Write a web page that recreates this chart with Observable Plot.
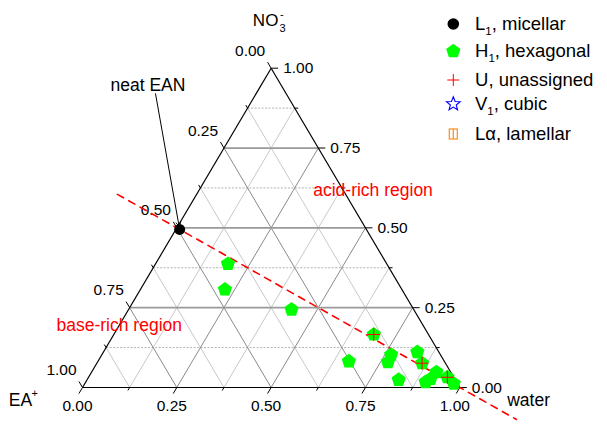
<!DOCTYPE html>
<html><head><meta charset="utf-8">
<script src="https://cdn.jsdelivr.net/npm/d3@7"></script>
<script src="https://cdn.jsdelivr.net/npm/@observablehq/plot@0.6"></script>
<style>
body{margin:0;background:#fff;}
#wrap{position:relative;width:607px;height:425px;font-family:"Liberation Sans",Arial,Helvetica,sans-serif;}
#legend{position:absolute;left:0;top:0;pointer-events:none;}
</style></head><body><div id="wrap"></div>
<script>
// ---------- data (ternary fractions: EA+, water, NO3-) ----------
const axisTicks = [0, 0.25, 0.5, 0.75, 1];
const tickLabels = ["0.00", "0.25", "0.50", "0.75", "1.00"];
const minorTicks = [0.125, 0.375, 0.625, 0.875];
const gridValues = [0.125, 0.25, 0.375, 0.5, 0.625, 0.75, 0.875];
const majorGrid = [0.25, 0.5, 0.75];

// L1, micellar (neat EAN)
const L1_ea = [0.495];
const L1_water = [0.01];
const L1_no3 = [0.495];

// H1, hexagonal
const H1_ea    = [0.421, 0.469, 0.324, 0.145, 0.253, 0.131, 0.151, 0.057, 0.062, 0.150, 0.038, 0.064, 0.082, 0.017, 0.010];
const H1_water = [0.192, 0.224, 0.432, 0.689, 0.665, 0.767, 0.770, 0.832, 0.862, 0.826, 0.914, 0.909, 0.901, 0.951, 0.978];
const H1_no3   = [0.387, 0.307, 0.244, 0.166, 0.082, 0.102, 0.079, 0.111, 0.076, 0.024, 0.048, 0.027, 0.017, 0.032, 0.012];

// U, unassigned
const U_ea    = [0.145, 0.062, 0.017];
const U_water = [0.689, 0.862, 0.951];
const U_no3   = [0.166, 0.076, 0.032];

// EA:NO3 = 1:1 dilution line, water fraction range drawn
const dilutionWater = [-0.21, 1.2];

// annotations (plot-space x = water + no3/2, y = no3)
const annNeat = {x: 0.0742, y: 0.928, text: "neat EAN"};
const annArrowStart = {x: 0.1935, y: 0.92};
const annAcid = {x: 0.6115, y: 0.6013, text: "acid-rich region"};
const annBase = {x: -0.0689, y: 0.1785, text: "base-rich region"};

const legendItems = [
  {sym: "circle",   color: "#000000", main: "L", sub: "1", rest: ", micellar"},
  {sym: "pentagon", color: "#00ff00", main: "H", sub: "1", rest: ", hexagonal"},
  {sym: "plus",     color: "#ff0000", main: "U", sub: "",  rest: ", unassigned"},
  {sym: "star",     color: "#0000ff", main: "V", sub: "1", rest: ", cubic"},
  {sym: "lamellar", color: "#ff8c1a", main: "L\u03b1", sub: "", rest: ", lamellar"}
];
const legendBaselines = [30, 57.3, 86, 110, 140];

// ---------- layout ----------
const W = 607, H = 425;
const mL = 82, mR = 147.7, mT = 67.7, mB = 38;
const KX = W - mL - mR, KY = H - mT - mB;
const FONT = '"Liberation Sans", Arial, Helvetica, sans-serif';

const toXY = (ea, w, n) => { const s = ea + w + n; return {x: (w + n / 2) / s, y: n / s}; };
const px = (dx, dy) => [dx / KX, -dy / KY]; // pixel vector -> data vector

// grid
const grid = [];
for (const v of gridValues) {
  const major = majorGrid.includes(v);
  const h1 = toXY(1 - v, 0, v), h2 = toXY(0, 1 - v, v);
  grid.push({kind: "h", major, x1: h1.x, y1: h1.y, x2: h2.x, y2: h2.y});
  const a1 = toXY(1 - v, v, 0), a2 = toXY(0, v, 1 - v);
  grid.push({kind: "s", major, x1: a1.x, y1: a1.y, x2: a2.x, y2: a2.y});
  const b1 = toXY(v, 1 - v, 0), b2 = toXY(v, 0, 1 - v);
  grid.push({kind: "s", major, x1: b1.x, y1: b1.y, x2: b2.x, y2: b2.y});
}
const vEA = toXY(1, 0, 0), vW = toXY(0, 1, 0), vN = toXY(0, 0, 1);
const edges = [[vEA, vW], [vW, vN], [vN, vEA]].map(([a, b]) => ({x1: a.x, y1: a.y, x2: b.x, y2: b.y}));

// tick directions in pixels
const len = Math.hypot(KX / 2, KY);
const dirLeft = [-(KX / 2) / len, -KY / len];   // up-left
const dirBottom = [-(KX / 2) / len, KY / len];  // down-left
const dirRight = [1, 0];
const ticks = [];
const allT = axisTicks.map(v => ({v, major: true})).concat(minorTicks.map(v => ({v, major: false})));
for (const {v, major} of allT) {
  const L = major ? 7 : 3.5;
  const pl = toXY(v, 0, 1 - v);     // left axis: EA
  const pr = toXY(0, 1 - v, v);     // right axis: NO3
  const pb = toXY(1 - v, v, 0);     // bottom axis: water
  for (const [p, d] of [[pl, dirLeft], [pr, dirRight], [pb, dirBottom]]) {
    const [ddx, ddy] = px(d[0] * L, d[1] * L);
    ticks.push({x1: p.x, y1: p.y, x2: p.x + ddx, y2: p.y + ddy});
  }
}
const leftLabels = axisTicks.map((v, i) => ({...toXY(v, 0, 1 - v), t: tickLabels[i]}));
const rightLabels = axisTicks.map((v, i) => ({...toXY(0, 1 - v, v), t: tickLabels[i]}));
const bottomLabels = axisTicks.map((v, i) => ({...toXY(1 - v, v, 0), t: tickLabels[i]}));

const L1 = L1_ea.map((e, i) => toXY(e, L1_water[i], L1_no3[i]));
const H1 = H1_ea.map((e, i) => toXY(e, H1_water[i], H1_no3[i]));
const U = U_ea.map((e, i) => toXY(e, U_water[i], U_no3[i]));
const dil = dilutionWater.map(w => toXY((1 - w) / 2, w, (1 - w) / 2));

// custom symbols
const pentagon = {draw(ctx, size) {
  const r = Math.sqrt(size / Math.PI);
  for (let i = 0; i < 5; i++) {
    const a = -Math.PI / 2 + i * 2 * Math.PI / 5;
    const x = r * Math.cos(a), y = r * Math.sin(a);
    i ? ctx.lineTo(x, y) : ctx.moveTo(x, y);
  }
  ctx.closePath();
}};
const plusSym = {draw(ctx, size) {
  const r = Math.sqrt(size / Math.PI);
  ctx.moveTo(-r, 0); ctx.lineTo(r, 0); ctx.moveTo(0, -r); ctx.lineTo(0, r);
}};

const chart = Plot.plot({
  width: W, height: H,
  marginLeft: mL, marginRight: mR, marginTop: mT, marginBottom: mB,
  x: {domain: [0, 1], axis: null},
  y: {domain: [0, 1], axis: null},
  style: {fontFamily: FONT, background: "#fff", overflow: "visible"},
  marks: [
    Plot.link(grid.filter(d => d.kind === "s" && !d.major), {x1: "x1", y1: "y1", x2: "x2", y2: "y2", stroke: "#c8c8c8", strokeWidth: 1}),
    Plot.link(grid.filter(d => d.kind === "h" && !d.major), {x1: "x1", y1: "y1", x2: "x2", y2: "y2", stroke: "#b0b0b0", strokeWidth: 1, strokeDasharray: "2,1.5"}),
    Plot.link(grid.filter(d => d.kind === "s" && d.major), {x1: "x1", y1: "y1", x2: "x2", y2: "y2", stroke: "#8a8a8a", strokeWidth: 1}),
    Plot.link(grid.filter(d => d.kind === "h" && d.major), {x1: "x1", y1: "y1", x2: "x2", y2: "y2", stroke: "#9a9a9a", strokeWidth: 1.8}),
    Plot.link(edges, {x1: "x1", y1: "y1", x2: "x2", y2: "y2", stroke: "#000", strokeWidth: 1.2}),
    Plot.link(ticks, {x1: "x1", y1: "y1", x2: "x2", y2: "y2", stroke: "#000", strokeWidth: 1}),
    Plot.text(leftLabels, {x: "x", y: "y", text: "t", dx: -21, dy: -12.5, textAnchor: "middle", lineAnchor: "bottom", fontSize: 15.5, fill: "#000"}),
    Plot.text(rightLabels, {x: "x", y: "y", text: "t", dx: 12, dy: 5, textAnchor: "start", lineAnchor: "bottom", fontSize: 15.5, fill: "#000"}),
    Plot.text(bottomLabels, {x: "x", y: "y", text: "t", dx: -5, dy: 23, textAnchor: "middle", lineAnchor: "bottom", fontSize: 15.5, fill: "#000"}),
    // axis titles
    Plot.text([vN], {x: "x", y: "y", text: () => "NO", dx: -18.3, dy: -41.7, textAnchor: "start", lineAnchor: "bottom", fontSize: 17, fill: "#000"}),
    Plot.text([vN], {x: "x", y: "y", text: () => "3", dx: 8.4, dy: -35.7, textAnchor: "start", lineAnchor: "bottom", fontSize: 11, fill: "#000"}),
    Plot.text([vN], {x: "x", y: "y", text: () => "-", dx: 8.8, dy: -50.5, textAnchor: "start", lineAnchor: "bottom", fontSize: 11, fill: "#000"}),
    Plot.text([vEA], {x: "x", y: "y", text: () => "EA", dx: -73.7, dy: 18, textAnchor: "start", lineAnchor: "bottom", fontSize: 17.5, fill: "#000"}),
    Plot.text([vEA], {x: "x", y: "y", text: () => "+", dx: -51, dy: 9.5, textAnchor: "start", lineAnchor: "bottom", fontSize: 11, fill: "#000"}),
    Plot.text([vW], {x: "x", y: "y", text: () => "water", dx: 47.4, dy: 18, textAnchor: "start", lineAnchor: "bottom", fontSize: 17.5, fill: "#000"}),
    // dilution line
    Plot.line(dil, {x: "x", y: "y", stroke: "#ff0000", strokeWidth: 1.6, strokeDasharray: "7,6"}),
    // annotations
    Plot.text([annNeat], {x: "x", y: "y", text: "text", textAnchor: "start", lineAnchor: "bottom", fontSize: 17.5, fill: "#000"}),
    Plot.text([annAcid], {x: "x", y: "y", text: "text", textAnchor: "start", lineAnchor: "bottom", fontSize: 17.5, fill: "#ff0000"}),
    Plot.text([annBase], {x: "x", y: "y", text: "text", textAnchor: "start", lineAnchor: "bottom", fontSize: 17.5, fill: "#ff0000"}),
    Plot.arrow([{x1: annArrowStart.x, y1: annArrowStart.y, x2: L1[0].x, y2: L1[0].y}], {x1: "x1", y1: "y1", x2: "x2", y2: "y2", stroke: "#000", strokeWidth: 1, headLength: 7, insetEnd: 3}),
    // data
    Plot.dot(H1, {x: "x", y: "y", symbol: pentagon, r: 7.5, fill: "#00ff00", stroke: "none"}),
    Plot.dot(L1, {x: "x", y: "y", r: 5.5, fill: "#000", stroke: "none"}),
    Plot.dot(U, {x: "x", y: "y", symbol: plusSym, r: 6.5, fill: "none", stroke: "#ff0000", strokeWidth: 1})
  ]
});
const wrap = document.getElementById("wrap");
wrap.appendChild(chart);

// ---------- legend overlay ----------
const leg = d3.select(wrap).append("svg").attr("id", "legend").attr("width", W).attr("height", H)
  .style("font-family", FONT);
const symX = 453.3, textX = 475;
legendItems.forEach((it, i) => {
  const by = legendBaselines[i], cy = by - 6;
  const g = leg.append("g").attr("transform", `translate(${symX},${cy})`);
  if (it.sym === "circle") g.append("circle").attr("r", 5.8).attr("fill", it.color);
  else if (it.sym === "pentagon") g.append("path").attr("d", d3.symbol().type(pentagon).size(Math.PI * 7.5 * 7.5)()).attr("fill", it.color);
  else if (it.sym === "plus") g.append("path").attr("d", "M-6,0H6M0,-6V6").attr("stroke", it.color).attr("fill", "none");
  else if (it.sym === "star") {
    const pts = [];
    for (let k = 0; k < 10; k++) {
      const r = k % 2 ? 3.1 : 7.2, a = -Math.PI / 2 + k * Math.PI / 5;
      pts.push([r * Math.cos(a), r * Math.sin(a)]);
    }
    g.append("path").attr("d", "M" + pts.map(p => p.join(",")).join("L") + "Z").attr("stroke", it.color).attr("fill", "none").attr("stroke-width", 1.1);
  } else if (it.sym === "lamellar") {
    g.append("rect").attr("x", -4).attr("y", -5).attr("width", 8).attr("height", 10).attr("fill", "none").attr("stroke", it.color).attr("stroke-width", 1.2);
    g.append("path").attr("d", "M0,-5V5").attr("stroke", it.color).attr("stroke-width", 1.2);
  }
  const t = leg.append("text").attr("x", textX).attr("y", by).attr("font-size", 18.5).attr("fill", "#000");
  t.append("tspan").text(it.main);
  if (it.sub) {
    t.append("tspan").attr("font-size", 11.5).attr("dy", 5).text(it.sub);
    t.append("tspan").attr("dy", -5).text(it.rest);
  } else t.append("tspan").text(it.rest);
});
</script></body></html>
